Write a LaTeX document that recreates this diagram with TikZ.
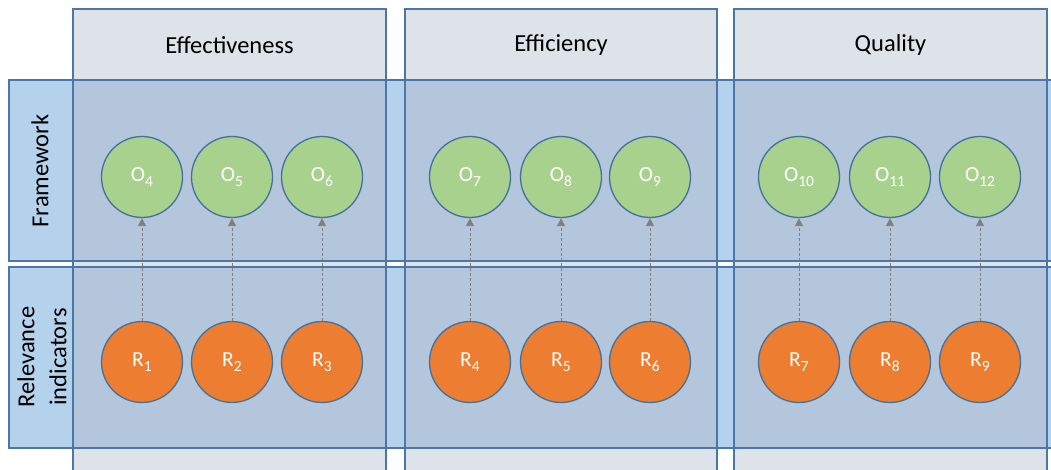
\documentclass[tikz,border=0pt]{standalone}
\usepackage{fontspec}
\setmainfont{Carlito}
\usetikzlibrary{arrows.meta}
\definecolor{colfill}{HTML}{DEE3EA}
\definecolor{rowfill}{HTML}{B5D2EC}
\definecolor{overfill}{HTML}{B3C6DC}
\definecolor{edge}{HTML}{4A76A8}
\definecolor{ofill}{HTML}{A9D18E}
\definecolor{rfill}{HTML}{ED7D31}
\definecolor{cedge}{HTML}{41719C}
\definecolor{arr}{HTML}{7F7F7F}
\newcommand{\lab}[2]{#1\raisebox{-0.22em}{\fontsize{15.5bp}{16bp}\selectfont #2}}
\tikzset{
  bx/.style={line width=1.4bp, draw=edge},
  ocirc/.style={circle, minimum size=81bp, inner sep=0pt, fill=ofill, draw=cedge, line width=1.3bp, text=white, font=\fontsize{21.5bp}{22bp}\selectfont},
  rcirc/.style={circle, minimum size=81bp, inner sep=0pt, fill=rfill, draw=cedge, line width=1.3bp, text=white, font=\fontsize{21.5bp}{22bp}\selectfont},
  head/.style={font=\fontsize{24.5bp}{28bp}\selectfont, text=black},
  rowlab/.style={font=\fontsize{24.5bp}{32bp}\selectfont, text=black, rotate=90, align=center},
  link/.style={draw=arr, line width=0.8bp, dash pattern=on 3bp off 2bp, -{Triangle[length=8bp,width=8bp]}},
}
\begin{document}
\begin{tikzpicture}[x=1bp,y=-1bp]
\useasboundingbox (0,0) rectangle (1051,470);
\clip (0,0) rectangle (1051,470);
% columns
\foreach \a/\b in {73/386,405/717,734/1047}{
  \fill[colfill] (\a,9) rectangle (\b,480);
}
% rows
\foreach \c/\d in {80/261,267/448}{
  \fill[rowfill] (9,\c) rectangle (1070,\d);
  \foreach \a/\b in {73/386,405/717,734/1047}{
    \fill[overfill] (\a,\c) rectangle (\b,\d);
  }
}
% borders
\foreach \a/\b in {73/386,405/717,734/1047}{
  \draw[bx] (\a,480) -- (\a,9) -- (\b,9) -- (\b,480);
}
\foreach \c/\d in {80/261,267/448}{
  \draw[bx] (1070,\c) -- (9,\c) -- (9,\d) -- (1070,\d);
}
% headers
\node[head] (h1) at (229.5,45) {Effectiveness};
\node[head] (h2) at (561,45) {Efficiency};
\node[head] (h3) at (890.5,45) {Quality};
% row labels
\node[rowlab] (l1) at (40,171) {Framework};
\node[rowlab] (l2) at (42,357) {Relevance\\indicators};
% circles
\foreach \x/\o/\r in {142/4/1,232/5/2,322/6/3,470/7/4,561/8/5,650/9/6,799/10/7,890/11/8,980/12/9}{
  \node[ocirc] (O\o) at (\x,177) {\lab{O}{\o}};
  \node[rcirc] (R\r) at (\x,362) {\lab{R}{\r}};
}
\foreach \r/\o in {1/4,2/5,3/6,4/7,5/8,6/9,7/10,8/11,9/12}{
  \draw[link] (R\r.north) -- (O\o.south);
}
\end{tikzpicture}
\end{document}
